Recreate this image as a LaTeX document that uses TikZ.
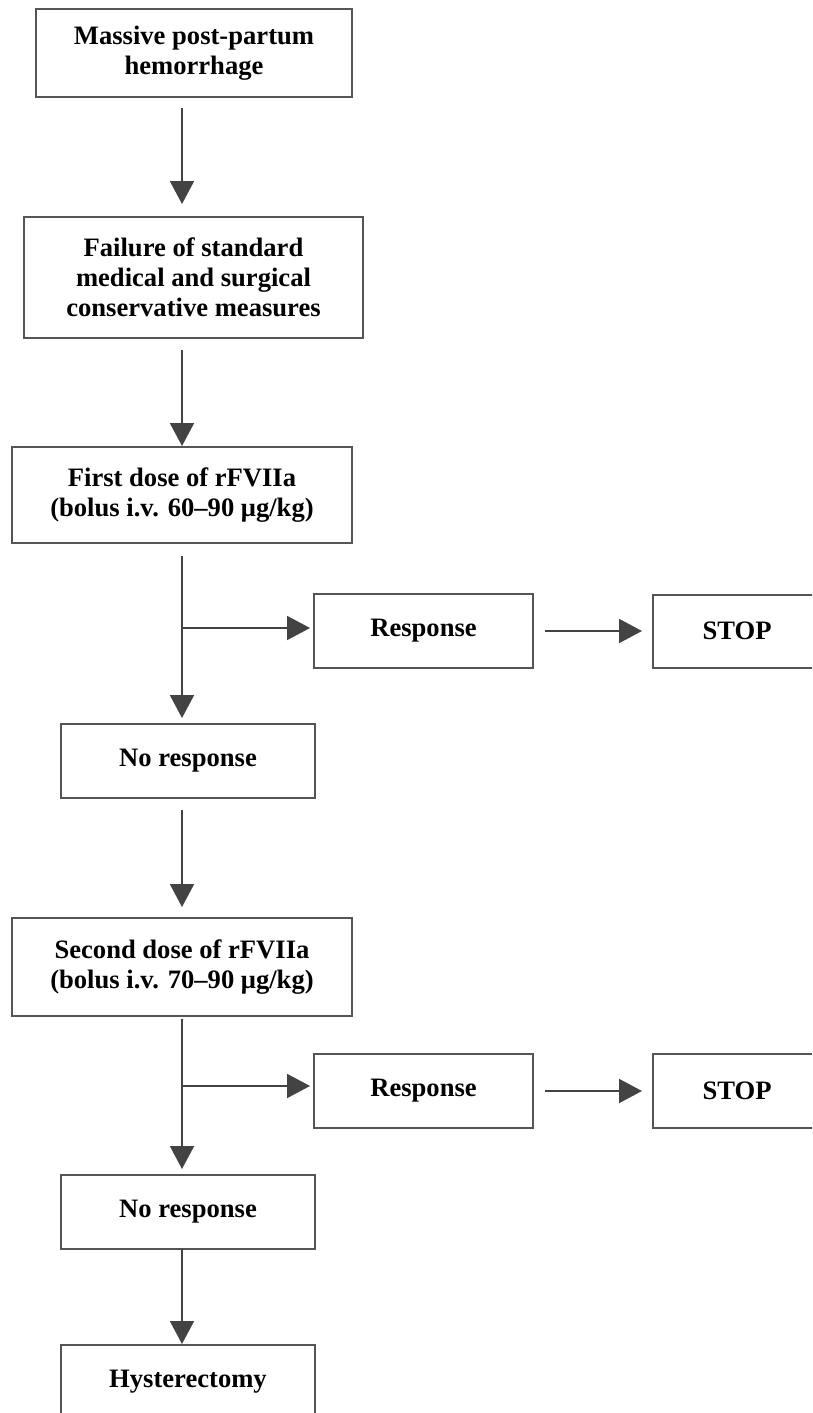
\documentclass[tikz,border=0pt]{standalone}
\usepackage{fontspec}
\setmainfont{Liberation Serif}
\usetikzlibrary{arrows.meta}
\definecolor{boxgray}{HTML}{555555}
\definecolor{linegray}{HTML}{434343}
\begin{document}
\begin{tikzpicture}[x=1pt,y=-1pt,
  box/.style={draw=boxgray,line width=2pt,rectangle,inner sep=0pt,outer sep=0pt,
    align=center,font=\fontsize{26.6}{30}\selectfont\bfseries},
  arr/.style={draw=linegray,line width=2pt,-{Triangle[width=24pt,length=23pt]}}]
\useasboundingbox (0,0) rectangle (812,1413);
\clip (0,0) rectangle (812,1413);
\fill[white] (0,0) rectangle (812,1413);
% boxes
\node[box,minimum width=316pt,minimum height=88pt] (n1) at (194,53) {Massive post-partum\\hemorrhage};
\node[box,minimum width=339pt,minimum height=121pt] (n2) at (193.5,277.5) {Failure of standard\\medical and surgical\\conservative measures};
\node[box,minimum width=340pt,minimum height=96pt] (n3) at (182,495) {First dose of rFVIIa\\(bolus i.v. 60--90 μg/kg)};
\node[box,minimum width=219pt,minimum height=74pt] (r1) at (423.5,631) {Response};
\node[box,minimum width=168pt,minimum height=73pt] (s1) at (737,631) {STOP};
\node[box,minimum width=254pt,minimum height=74pt] (n5) at (188,761) {No response};
\node[box,minimum width=340pt,minimum height=98pt] (n6) at (182,967) {Second dose of rFVIIa\\(bolus i.v. 70--90 μg/kg)};
\node[box,minimum width=219pt,minimum height=74pt] (r2) at (423.5,1091) {Response};
\node[box,minimum width=168pt,minimum height=74pt] (s2) at (737,1091) {STOP};
\node[box,minimum width=254pt,minimum height=74pt] (n7) at (188,1212) {No response};
\node[box,minimum width=254pt,minimum height=74pt] (n8) at (188,1382) {Hysterectomy};
% junctions
\coordinate (j1) at (182,628);
\coordinate (j2) at (182,1086);
% connectors
\draw[arr,shorten <=11pt,shorten >=13pt] (n1.south -| n3.north) -- (n2.north -| n3.north);
\draw[arr,shorten <=12pt,shorten >=1pt] (n2.south -| n3.north) -- (n3.north);
\draw[arr,shorten <=13pt,shorten >=6pt] (n3.south) -- (n5.north -| n3.south);
\draw[arr,shorten >=4pt] (j1) -- (j1 -| r1.west);
\draw[arr,shorten <=12pt,shorten >=11pt] (r1.east) -- (s1.west);
\draw[arr,shorten <=12pt,shorten >=11pt] (n5.south -| n6.north) -- (n6.north);
\draw[arr,shorten <=3pt,shorten >=6pt] (n6.south) -- (n7.north -| n6.south);
\draw[arr,shorten >=4pt] (j2) -- (j2 -| r2.west);
\draw[arr,shorten <=12pt,shorten >=11pt] (r2.east) -- (s2.west);
\draw[arr,shorten >=1pt] (n7.south -| n6.south) -- (n8.north -| n6.south);
\end{tikzpicture}
\end{document}
